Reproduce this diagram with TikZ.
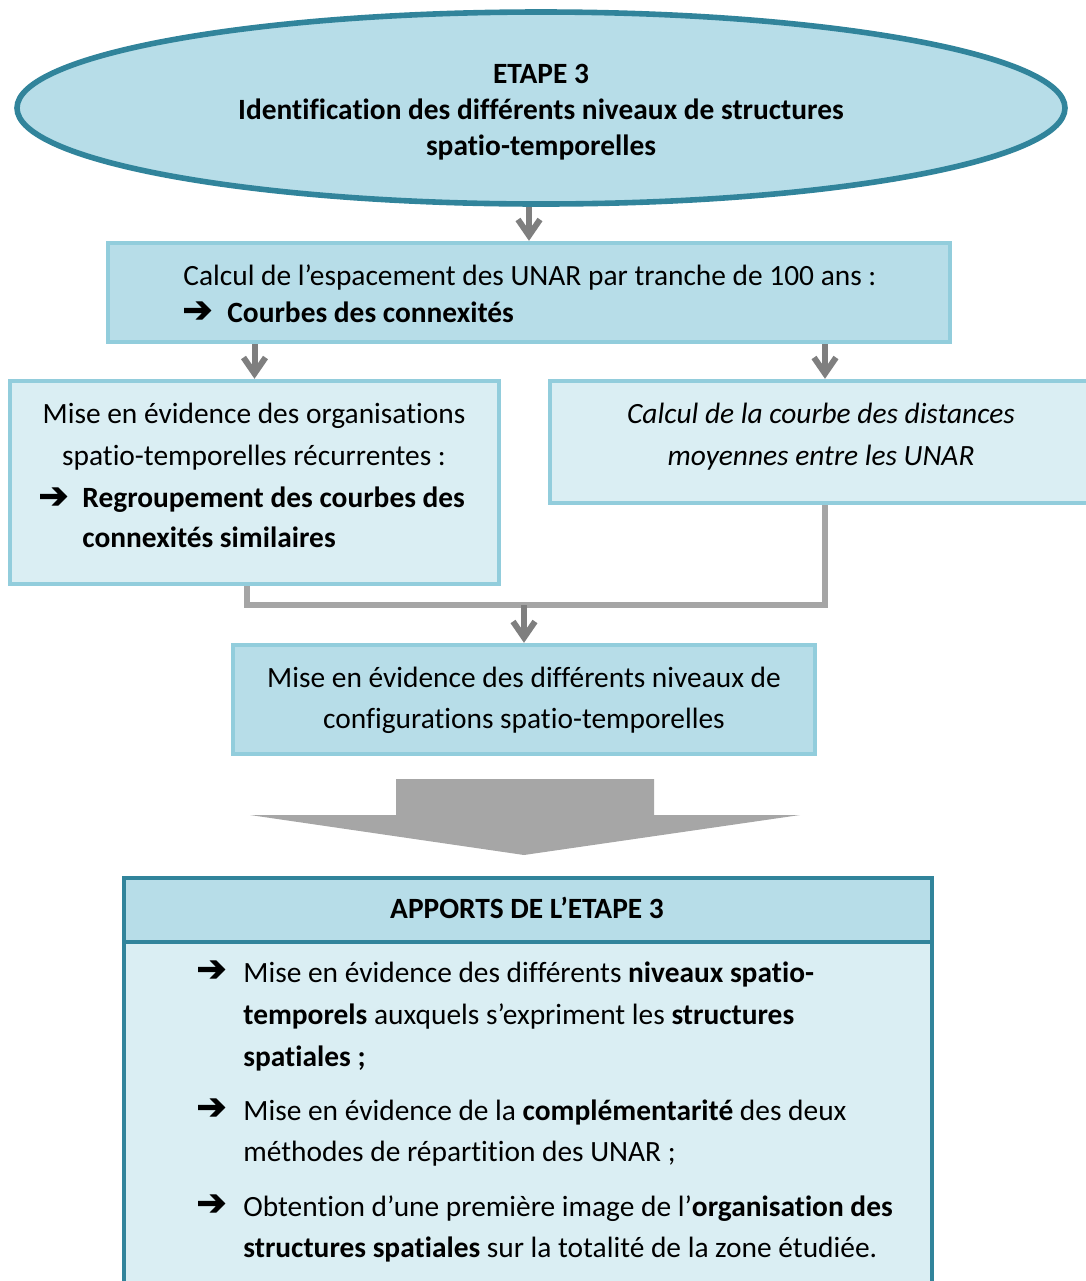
\documentclass[tikz,border=0pt]{standalone}
\usepackage{fontspec}
\setmainfont[Ligatures=NoCommon]{Carlito}
\newfontfamily\symfont[FakeBold=2.5]{DejaVu Sans}
\usetikzlibrary{arrows.meta,positioning,shapes.geometric}
\usepackage{xcolor}
\definecolor{lightblue}{HTML}{B7DDE8}
\definecolor{paleblue}{HTML}{DAEEF3}
\definecolor{edgeblue}{HTML}{92CDDC}
\definecolor{darkteal}{HTML}{31849B}
\definecolor{arrowgray}{HTML}{7F7F7F}
\definecolor{linkgray}{HTML}{A5A5A5}
\definecolor{bigarrow}{HTML}{A6A6A6}
\newcommand{\bul}{{\symfont\fontsize{18}{18}\selectfont ➔}}
\newcommand{\basesize}{\fontsize{14.7}{20.5}\selectfont}

\begin{document}
\begin{tikzpicture}[x=0.5pt,y=-0.5pt,font=\basesize,
  box/.style={draw=edgeblue,line width=2.2pt,inner sep=0pt},
  flow/.style={draw=arrowgray,line width=3pt,-{Straight Barb[length=8pt,width=11pt,line width=3pt]}},
  link/.style={draw=linkgray,line width=3pt},
  txt/.style={anchor=mid,inner sep=0pt},
  ltxt/.style={anchor=mid west,inner sep=0pt},
  bold/.style={font=\basesize\bfseries},
  slant/.style={font=\basesize\itshape}]
  \useasboundingbox (0,0) rectangle (1086,1281);

  % top ellipse
  \node[ellipse,draw=darkteal,line width=2.8pt,fill=lightblue,minimum width=524pt,minimum height=96pt] (ell) at (541,108) {};
  \node[bold,txt] (e1) at (541,79) {ETAPE 3};
  \node[bold,txt] (e2) at (541,115) {Identification des différents niveaux de structures};
  \node[bold,txt] (e3) at (541,151) {spatio-temporelles};

  % boxes
  \node[box,fill=lightblue,minimum width=421pt,minimum height=49.5pt] (box1) at (529,292.5) {};
  \node[box,fill=paleblue,minimum width=244.5pt,minimum height=101.5pt] (box2) at (254.5,482.5) {};
  \node[box,fill=paleblue,minimum width=275pt,minimum height=61pt] (box3) at (825,442) {};
  \node[box,fill=lightblue,minimum width=291pt,minimum height=54.5pt] (box4) at (524,699.5) {};

  \node[ltxt] (c1) at (183,281) {Calcul de l’espacement des UNAR par tranche de 100 ans :};
  \node[ltxt] (a1) at (182,317) {\bul};
  \node[ltxt,bold] (c2) at (227,318) {Courbes des connexités};

  \node[txt] (m1) at (254,419) {Mise en évidence des organisations};
  \node[txt] (m2) at (254,461) {spatio-temporelles récurrentes :};
  \node[ltxt] (a2) at (38,503) {\bul};
  \node[ltxt,bold] (m3) at (82,503) {Regroupement des courbes des};
  \node[ltxt,bold] (m4) at (82,543) {connexités similaires};

  \node[txt,slant] (d1) at (821,419) {Calcul de la courbe des distances};
  \node[txt,slant] (d2) at (821,461) {moyennes entre les UNAR};

  \node[txt] (n1) at (524,683) {Mise en évidence des différents niveaux de};
  \node[txt] (n2) at (524,724) {configurations spatio-temporelles};

  % connectors
  \draw[flow] (box1.north |- ell.south) -- (box1.north);
  \draw[flow] (box2.north |- box1.south) -- (box2.north);
  \draw[flow] (box3.north |- box1.south) -- (box3.north);
  \coordinate (join) at (524,605);
  \draw[link] ([xshift=-4pt]box2.south) |- (box3.south |- join) -- (box3.south);
  \draw[flow] (join) -- (box4.north);

  % big arrow
  \fill[bigarrow] (396,779) -- (654,779) -- (654,815) -- (800,815) -- (524,855)
    -- (250,815) -- (396,815) -- cycle;

  % results
  \node[draw=darkteal,line width=2.2pt,fill=paleblue,minimum width=404pt,minimum height=189pt] (body) at (528,1131) {};
  \node[draw=darkteal,line width=2.2pt,fill=lightblue,minimum width=404pt,minimum height=32pt] (head) at (528,910) {};
  \node[txt,bold] (h1) at (527,914) {APPORTS DE L’ETAPE 3};

  \foreach \y in {976,1114,1210}
    \node[ltxt] (b\y) at (196,\y) {\bul};
  \node[ltxt] (r1) at (243,978) {Mise en évidence des différents \textbf{niveaux spatio-}};
  \node[ltxt] (r2) at (243,1020) {\textbf{temporels} auxquels s’expriment les \textbf{structures}};
  \node[ltxt] (r3) at (243,1062) {\textbf{spatiales ;}};
  \node[ltxt] (r4) at (243,1116) {Mise en évidence de la \textbf{complémentarité} des deux};
  \node[ltxt] (r5) at (243,1157) {méthodes de répartition des UNAR ;};
  \node[ltxt] (r6) at (243,1212) {Obtention d’une première image de l’\textbf{organisation des}};
  \node[ltxt] (r7) at (243,1253) {\textbf{structures spatiales} sur la totalité de la zone étudiée.};
\end{tikzpicture}
\end{document}
